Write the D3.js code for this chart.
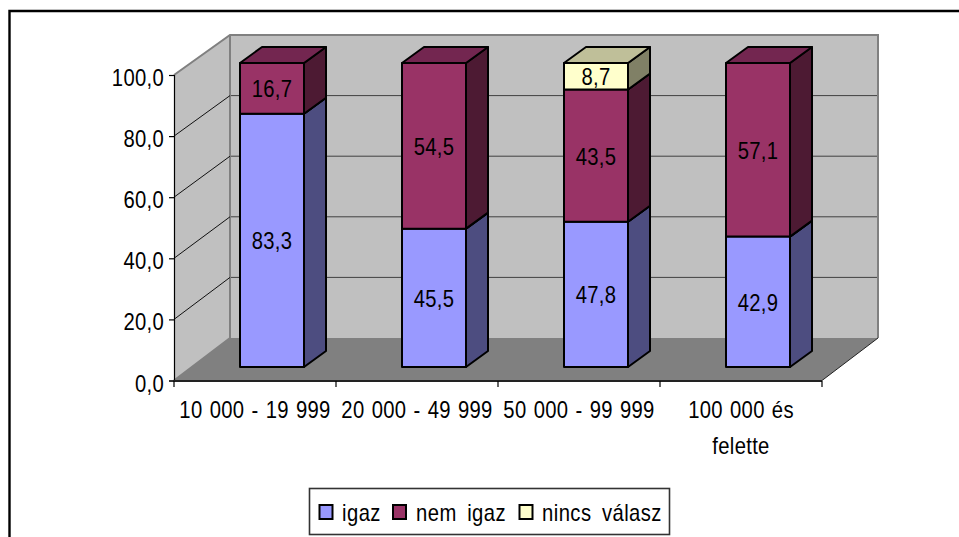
<!DOCTYPE html>
<html><head><meta charset="utf-8">
<script src="https://cdnjs.cloudflare.com/ajax/libs/d3/7.8.5/d3.min.js"></script>
<style>
html,body{margin:0;padding:0;background:#fff;overflow:hidden}
svg{display:block}
text{font-family:"Liberation Sans",sans-serif;font-size:23px;fill:#000;letter-spacing:.35px;word-spacing:1.4px}
text.leg{word-spacing:5px;letter-spacing:.5px}
</style></head><body>
<script>
const categories = [["10 000 - 19 999"],["20 000 - 49 999"],["50 000 - 99 999"],["100 000 és","felette"]];
const seriesNames = ["igaz","nem igaz","nincs válasz"];
const igaz = [83.3,45.5,47.8,42.9];
const nemIgaz = [16.7,54.5,43.5,57.1];
const nincsValasz = [null,null,8.7,null];
const yTicks = [0,20,40,60,80,100];
const fills = ["#9999FF","#993366","#FFFFCC"];
const sides = ["#4D4D80","#4D1A33","#808066"];
const tops = ["#737380","#732650","#BFBF99"];

const W=959,H=537,SX=0.88;
const svg=d3.select("body").append("svg").attr("width",W).attr("height",H);
const seriesVals=[igaz,nemIgaz,nincsValasz];
const label=(x,y,s,anchor)=>svg.append("text").attr("transform",`translate(${x},${y}) scale(${SX},1)`).attr("text-anchor",anchor||"start").text(s);

// frame
svg.append("path").attr("d","M9.5,537V11H959").attr("fill","none").attr("stroke","#000").attr("stroke-width",2.4);

const yFront=d3.scaleLinear().domain([0,100]).range([380.5,75]);
const yBack=d3.scaleLinear().domain([0,100]).range([338,35]);
const yBar=d3.scaleLinear().domain([0,100]).range([367,63]);
const xBand=d3.scaleBand().domain(d3.range(4)).range([174,822]);
const DX=56, barW=64, barDX=22, barDY=-16;
const barX=i=>xBand(i)+66;
const backR=xBand.range()[1]+DX, backL=174+DX;

// walls
svg.append("polygon").attr("points",[[174,yFront(100)],[backL,yBack(100)],[backL,yBack(0)],[174,yFront(0)]].join(" ")).attr("fill","#C0C0C0");
svg.append("rect").attr("x",backL).attr("y",yBack(100)).attr("width",backR-backL).attr("height",yBack(0)-yBack(100)).attr("fill","#C0C0C0");
svg.append("polygon").attr("points",[[174,yFront(0)],[backL,yBack(0)],[backR,yBack(0)],[822,yFront(0)]].join(" ")).attr("fill","#808080");

// wall edges
svg.append("path").attr("d",`M174,${yFront(100)}L${backL},${yBack(100)}H${backR}V${yBack(0)}`).attr("fill","none").attr("stroke","#808080").attr("stroke-width",2);
svg.append("path").attr("d",`M${backL},${yBack(100)}V${yBack(0)}L174,${yFront(0)}`).attr("fill","none").attr("stroke","#808080").attr("stroke-width",2);

// grid
yTicks.filter(t=>t>0&&t<100).forEach(t=>{
  svg.append("line").attr("x1",174).attr("y1",yFront(t)).attr("x2",backL).attr("y2",yBack(t)).attr("stroke","#111").attr("stroke-width",1);
  svg.append("line").attr("x1",backL+1).attr("y1",yBack(t)).attr("x2",backR-1).attr("y2",yBack(t)).attr("stroke","#404040").attr("stroke-width",1);
});

// floor front edge
svg.append("line").attr("x1",822).attr("y1",yFront(0)).attr("x2",backR).attr("y2",yBack(0)).attr("stroke","#222").attr("stroke-width",1);

// axes
const ga=svg.append("g").attr("transform","translate(174,0)")
  .call(d3.axisLeft(yFront).tickValues(yTicks).tickSize(5).tickFormat(""));
ga.selectAll("path").attr("stroke","#000").attr("stroke-width",1.2);
ga.selectAll("line").attr("stroke","#000").attr("stroke-width",1.2);
yTicks.forEach(t=>label(164,yFront(t)+11,d3.format(".1f")(t).replace(".",","),"end"));

const xEdge=d3.scaleLinear().domain([0,4]).range([174,822]);
svg.append("line").attr("x1",173).attr("x2",822).attr("y1",381).attr("y2",381).attr("stroke","#222").attr("stroke-width",2);
d3.range(5).forEach(i=>svg.append("line").attr("x1",xEdge(i)).attr("x2",xEdge(i)).attr("y1",381).attr("y2",387).attr("stroke","#000").attr("stroke-width",1.2));

// category labels
categories.forEach((c,i)=>{
  c.forEach((l,k)=>label(xBand(i)+xBand.bandwidth()/2,k?454:418,l,"middle"));
});

// bars
categories.forEach((c,i)=>{
  let cum=0;
  const x=barX(i);
  seriesVals.forEach((vals,s)=>{
    const v=vals[i]; if(v==null) return;
    const y0=yBar(cum), y1=yBar(cum+v);
    const g=svg.append("g").attr("stroke","#000").attr("stroke-width",2).attr("stroke-linejoin","round");
    g.append("polygon").attr("points",[[x+barW,y0],[x+barW+barDX,y0+barDY],[x+barW+barDX,y1+barDY],[x+barW,y1]].join(" ")).attr("fill",sides[s]);
    g.append("polygon").attr("points",[[x,y1],[x+barDX,y1+barDY],[x+barW+barDX,y1+barDY],[x+barW,y1]].join(" ")).attr("fill",tops[s]);
    g.append("rect").attr("x",x).attr("y",y1).attr("width",barW).attr("height",y0-y1).attr("fill",fills[s]);
    cum+=v;
  });
});
// data labels
categories.forEach((c,i)=>{
  let cum=0;
  seriesVals.forEach((vals,s)=>{
    const v=vals[i]; if(v==null) return;
    label(barX(i)+barW/2,(yBar(cum)+yBar(cum+v))/2+9,String(v).replace(".",","),"middle");
    cum+=v;
  });
});

// legend
svg.append("rect").attr("x",309.5).attr("y",488.5).attr("width",360).attr("height",46).attr("fill","#fff").attr("stroke","#333").attr("stroke-width",1.6);
const legSw=[319.5,393,519.5], legTx=[342,416,542];
seriesNames.forEach((n,i)=>{
  svg.append("rect").attr("x",legSw[i]).attr("y",505).attr("width",13).attr("height",14).attr("fill",fills[i]).attr("stroke","#000").attr("stroke-width",2);
  label(legTx[i],521,n).attr("class","leg");
});
</script>
</body></html>
